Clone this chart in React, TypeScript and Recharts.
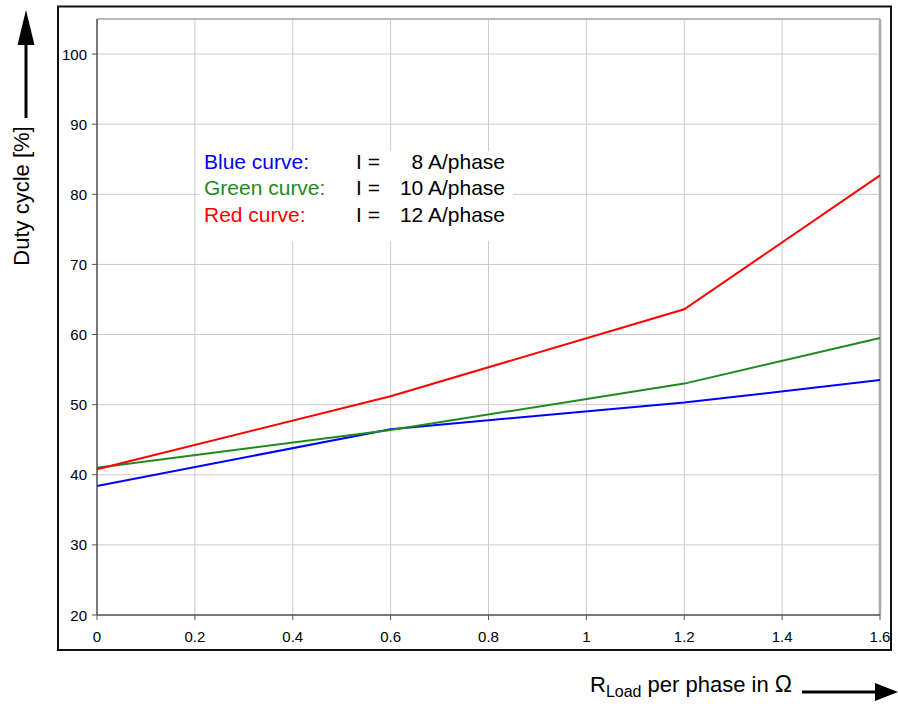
import React from "react"
import {
  LineChart,
  Line,
  XAxis,
  YAxis,
  CartesianGrid,
  ReferenceLine,
} from "recharts"

// load resistance per phase (ohm)
const rLoad = [0, 0.6, 1.2, 1.6]
// duty cycle in % for each phase current
const blue8A = [38.4, 46.5, 50.3, 53.5]
const green10A = [41.0, 46.4, 53.0, 59.5]
const red12A = [40.8, 51.2, 63.6, 82.7]

const xTicks = [0, 0.2, 0.4, 0.6, 0.8, 1, 1.2, 1.4, 1.6]
const yTicks = [20, 30, 40, 50, 60, 70, 80, 90, 100]

const legendRows = [
  { name: "Blue curve:", current: "8", color: "#0000ff" },
  { name: "Green curve:", current: "10", color: "#1f8a1f" },
  { name: "Red curve:", current: "12", color: "#ff0000" },
]

const data = rLoad.map((r, i) => ({
  r,
  blue: blue8A[i],
  green: green10A[i],
  red: red12A[i],
}))

const font = '"Liberation Sans", Arial, Helvetica, sans-serif'
const tickStyle = { fontSize: "15px", fontFamily: font, fill: "#000" }

const renderXTick = (props: any) => (
  <text key={props.index} x={props.x} y={props.y} dy={10} textAnchor="middle" style={tickStyle}>
    {String(props.payload.value)}
  </text>
)

const renderYTick = (props: any) => (
  <text key={props.index} x={props.x} y={props.y} dy={5.5} textAnchor="end" style={tickStyle}>
    {String(props.payload.value)}
  </text>
)

export default function App() {
  return (
    <div
      style={{
        position: "relative",
        width: 898,
        height: 704,
        fontFamily: font,
        background: "#fff",
      }}
    >
      <style>{`body{margin:0}`}</style>
      <LineChart
        width={898}
        height={704}
        data={data}
        margin={{ top: 19, right: 18, bottom: 59, left: 57 }}
        style={{ position: "absolute", left: 0, top: 0 }}
      >
        <CartesianGrid stroke="#cccccc" strokeWidth={1} />
        <XAxis
          dataKey="r"
          type="number"
          domain={[0, 1.6]}
          ticks={xTicks}
          height={30}
          axisLine={{ stroke: "#555", strokeWidth: 1.5 }}
          tickLine={{ stroke: "#555" }}
          tickSize={5}
          tickMargin={12}
          tick={renderXTick}
          interval={0}
        />
        <YAxis
          type="number"
          domain={[20, 105]}
          ticks={yTicks}
          width={40}
          axisLine={{ stroke: "#555", strokeWidth: 1.5 }}
          tickLine={{ stroke: "#555" }}
          tickSize={5}
          tickMargin={5}
          tick={renderYTick}
          interval={0}
        />
        <ReferenceLine y={105} stroke="#aaaaaa" strokeWidth={1.5} />
        <ReferenceLine x={1.6} stroke="#aaaaaa" strokeWidth={2.5} />
        <Line
          dataKey="blue"
          stroke="#0000ff"
          strokeWidth={2}
          dot={false}
          isAnimationActive={false}
        />
        <Line
          dataKey="green"
          stroke="#1f8a1f"
          strokeWidth={2}
          dot={false}
          isAnimationActive={false}
        />
        <Line
          dataKey="red"
          stroke="#ff0000"
          strokeWidth={2}
          dot={false}
          isAnimationActive={false}
        />
      </LineChart>

      <svg
        width={898}
        height={704}
        style={{ position: "absolute", left: 0, top: 0, pointerEvents: "none" }}
      >
        <rect x={58} y={6.5} width={833} height={643.5} fill="none" stroke="#111" strokeWidth={2} />

        {/* curve legend inside the plot */}
        <rect x={200} y={151} width={313} height={90} fill="#fff" />
        {legendRows.map((row, i) => (
          <g key={row.name} fontSize={21} fontFamily={font}>
            <text x={204} y={169 + i * 26.3} fill={row.color}>
              {row.name}
            </text>
            <text x={356} y={169 + i * 26.3} fill="#000">
              I =
            </text>
            <text x={505} y={169 + i * 26.3} fill="#000" textAnchor="end">
              {row.current} A/phase
            </text>
          </g>
        ))}

        {/* y axis title with arrow */}
        <text
          x={28.5}
          y={196}
          fontSize={22}
          fontFamily={font}
          fill="#000"
          textAnchor="middle"
          transform="rotate(-90, 28.5, 196)"
        >
          Duty cycle [%]
        </text>
        <line x1={26} y1={118} x2={26} y2={40} stroke="#000" strokeWidth={3} />
        <polygon points="26,10 17.5,45 34.5,45" fill="#000" />

        {/* x axis title with arrow */}
        <text x={590} y={692} fontSize={22} fontFamily={font} fill="#000">
          R
          <tspan fontSize={16} dy={5}>
            Load
          </tspan>
          <tspan dy={-5}> per phase in </tspan>
          <tspan fontSize={23}>Ω</tspan>
        </text>
        <line x1={802} y1={692} x2={880} y2={692} stroke="#000" strokeWidth={3} />
        <polygon points="898,692 875,683 875,701" fill="#000" />
      </svg>
    </div>
  )
}
